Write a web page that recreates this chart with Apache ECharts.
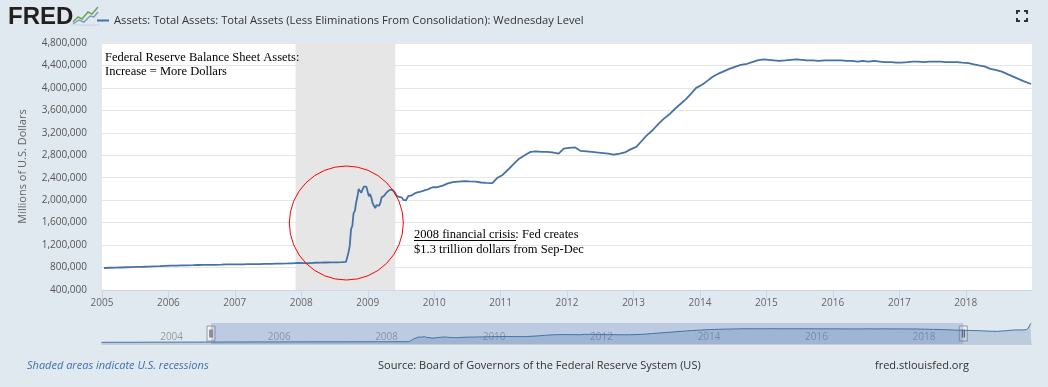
<!DOCTYPE html>
<html>
<head>
<meta charset="utf-8">
<script src="https://cdn.jsdelivr.net/npm/echarts@6/dist/echarts.min.js"></script>
<style>
html,body{margin:0;padding:0;background:#e1e9f0;}
#c{width:1048px;height:387px;}
</style>
</head>
<body>
<div id="c"></div>
<script>
// ---- data (millions of U.S. dollars) ----
const seriesName = 'Assets: Total Assets: Total Assets (Less Eliminations From Consolidation): Wednesday Level';
const mainDates = [
 '2005-01-12','2005-02-16','2005-03-16','2005-04-13','2005-05-18','2005-06-15','2005-07-13','2005-08-17','2005-09-14','2005-10-12','2005-11-16','2005-12-14',
 '2006-01-11','2006-02-15','2006-03-15','2006-04-12','2006-05-17','2006-06-14','2006-07-12','2006-08-16','2006-09-13','2006-10-18','2006-11-15','2006-12-13',
 '2007-01-17','2007-02-14','2007-03-14','2007-04-18','2007-05-16','2007-06-13','2007-07-18','2007-08-15','2007-09-12','2007-10-17','2007-11-14','2007-12-12',
 '2008-01-16','2008-02-13','2008-03-12','2008-04-16','2008-05-14','2008-06-11','2008-07-16','2008-08-13',
 '2008-09-03','2008-09-10','2008-09-17','2008-09-24','2008-10-01','2008-10-08','2008-10-15','2008-10-22','2008-10-29',
 '2008-11-05','2008-11-12','2008-11-19','2008-11-26','2008-12-03','2008-12-10','2008-12-17','2008-12-24','2008-12-31',
 '2009-01-07','2009-01-14','2009-01-21','2009-01-28','2009-02-04','2009-02-11','2009-02-18','2009-02-25',
 '2009-03-04','2009-03-11','2009-03-18','2009-03-25','2009-04-01','2009-04-08','2009-04-15','2009-04-22','2009-04-29',
 '2009-05-06','2009-05-13','2009-05-20','2009-05-27','2009-06-03','2009-06-10','2009-06-17','2009-06-24',
 '2009-07-01','2009-07-08','2009-07-15','2009-07-22','2009-07-29','2009-08-05','2009-08-12','2009-08-19','2009-08-26',
 '2009-09-02','2009-09-16','2009-09-30','2009-10-14','2009-10-28','2009-11-11','2009-11-25','2009-12-09','2009-12-23',
 '2010-01-13','2010-02-17','2010-03-17','2010-04-14','2010-05-12','2010-06-16','2010-07-14','2010-08-18','2010-09-15','2010-10-13','2010-11-17','2010-12-15',
 '2011-01-12','2011-02-16','2011-03-16','2011-04-13','2011-05-18','2011-06-15','2011-07-13','2011-08-17','2011-09-14','2011-10-12','2011-11-16','2011-12-14',
 '2012-01-11','2012-02-15','2012-03-14','2012-04-18','2012-05-16','2012-06-13','2012-07-18','2012-08-15','2012-09-12','2012-10-17','2012-11-14','2012-12-12',
 '2013-01-16','2013-02-13','2013-03-13','2013-04-17','2013-05-15','2013-06-12','2013-07-17','2013-08-14','2013-09-11','2013-10-16','2013-11-13','2013-12-11',
 '2014-01-15','2014-02-12','2014-03-12','2014-04-16','2014-05-14','2014-06-11','2014-07-16','2014-08-13','2014-09-17','2014-10-15','2014-11-12','2014-12-17',
 '2015-01-14','2015-02-11','2015-03-11','2015-04-15','2015-05-13','2015-06-17','2015-07-15','2015-08-12','2015-09-16','2015-10-14','2015-11-18','2015-12-16',
 '2016-01-13','2016-02-17','2016-03-16','2016-04-13','2016-05-18','2016-06-15','2016-07-13','2016-08-17','2016-09-14','2016-10-12','2016-11-16','2016-12-14',
 '2017-01-11','2017-02-15','2017-03-15','2017-04-12','2017-05-17','2017-06-14','2017-07-12','2017-08-16','2017-09-13','2017-10-18','2017-11-15','2017-12-13',
 '2018-01-17','2018-02-14','2018-03-14','2018-04-18','2018-05-16','2018-06-13','2018-07-18','2018-08-15','2018-09-12','2018-10-17','2018-11-14','2018-12-26'
];
const mainValues = [
 792000,796000,798000,801000,805000,807000,811000,814000,818000,822000,826000,831000,
 835000,834000,837000,840000,842000,845000,847000,846000,849000,852000,855000,858000,
 856000,858000,860000,862000,861000,864000,866000,869000,871000,873000,875000,885000,
 877000,880000,885000,888000,890000,891000,893000,895000,
 900000,925000,1070000,1190000,1490000,1540000,1770000,1810000,1960000,
 2060000,2200000,2180000,2130000,2190000,2240000,2270000,2240000,2230000,
 2070000,2110000,2040000,1940000,1910000,1860000,1910000,1900000,
 1900000,1950000,2050000,2080000,2080000,2100000,2140000,2170000,2180000,
 2160000,2190000,2170000,2150000,2130000,2070000,2090000,2060000,
 2040000,2045000,2005000,2020000,1995000,2035000,2075000,2060000,2080000,
 2100000,2120000,2140000,2150000,2160000,2180000,2190000,2210000,2230000,
 2230000,2260000,2300000,2320000,2330000,2340000,2335000,2330000,2315000,2310000,2305000,2400000,
 2450000,2560000,2650000,2740000,2810000,2860000,2870000,2860000,2860000,2850000,2830000,2920000,
 2930000,2940000,2880000,2870000,2860000,2850000,2840000,2830000,2810000,2830000,2850000,2900000,
 2950000,3050000,3150000,3250000,3350000,3440000,3530000,3620000,3700000,3800000,3900000,4000000,
 4060000,4130000,4200000,4260000,4300000,4340000,4380000,4410000,4430000,4460000,4490000,4510000,
 4500000,4490000,4480000,4490000,4500000,4510000,4500000,4490000,4490000,4480000,4490000,4490000,
 4490000,4490000,4480000,4480000,4470000,4480000,4470000,4480000,4470000,4460000,4460000,4450000,
 4450000,4460000,4470000,4470000,4460000,4470000,4470000,4470000,4460000,4460000,4460000,4450000,
 4440000,4420000,4400000,4380000,4340000,4320000,4290000,4250000,4210000,4160000,4120000,4070000
];
// navigator-only history before and after the visible window
const preDates = ['2002-12-18','2003-03-12','2003-06-11','2003-09-10','2003-12-10','2004-03-10','2004-06-16','2004-09-15','2004-12-15'];
const preValues = [720000,730000,735000,745000,755000,760000,770000,780000,790000];
const postDates = ['2019-01-16','2019-02-13','2019-03-13','2019-04-17','2019-05-15','2019-06-12','2019-07-17','2019-08-14','2019-09-18','2019-10-16','2019-11-13','2019-12-18',
 '2020-01-15','2020-02-12','2020-03-04','2020-03-11','2020-03-18','2020-03-25','2020-04-01','2020-04-08'];
const postValues = [4050000,4020000,3990000,3950000,3900000,3850000,3800000,3770000,3850000,3940000,4050000,4170000,
 4170000,4160000,4240000,4360000,4670000,5250000,5810000,6080000];
const recession = ['2007-12-01','2009-06-01'];
const viewRange = ['2005-01-01','2018-12-31'];
const navRange = ['2002-12-22','2020-04-12'];
const navLabelYears = ['2004','2006','2008','2010','2012','2014','2016','2018'];
const yTicks = {min: 400000, max: 4800000, step: 400000};
const circleAt = ['2008-09-05', 1593000];

const mainData = mainDates.map((d,i)=>[d, mainValues[i]]);
const navData = preDates.map((d,i)=>[d,preValues[i]])
  .concat(mainData)
  .concat(postDates.map((d,i)=>[d,postValues[i]]));

const YEAR = 365*24*3600*1000;
const axisFont = "'Open Sans', sans-serif";
const serif = "'Liberation Serif','DejaVu Serif',serif";

const chart = echarts.init(document.getElementById('c'), null, {renderer:'canvas'});
const option = {
  animation: false,
  backgroundColor: '#e1e9f0',
  legend: {
    data: [seriesName],
    left: 92, top: 10,
    icon: 'rect', itemWidth: 12, itemHeight: 2, itemGap: 5,
    textStyle: {fontFamily: axisFont, fontSize: 11.2, color: '#333'},
    selectedMode: false
  },
  grid: [
    {left: 102, right: 16, top: 43, bottom: 97, show: true, backgroundColor: '#ffffff', borderWidth: 0},
    {left: 102, right: 16, top: 323, height: 21, show: true, backgroundColor: 'rgba(0,0,0,0)', borderWidth: 0}
  ],
  xAxis: [
    {type: 'time', gridIndex: 0, min: viewRange[0], max: viewRange[1],
     minInterval: YEAR, maxInterval: YEAR + 2*24*3600*1000,
     axisLine: {show: true, lineStyle: {color: '#ccd6eb'}},
     axisTick: {show: true, length: 9, lineStyle: {color: '#ccd6eb'}},
     axisLabel: {formatter: '{yyyy}', color: '#666', fontSize: 10, fontFamily: axisFont, margin: 8, hideOverlap: false},
     splitLine: {show: false}},
    {type: 'time', gridIndex: 1, min: navRange[0], max: navRange[1],
     minInterval: 2*YEAR, maxInterval: 2*YEAR + 3*24*3600*1000,
     axisLine: {show: true, lineStyle: {color: '#cccccc'}},
     axisTick: {show: false},
     axisLabel: {inside: true, color: '#999', fontSize: 10, fontFamily: axisFont, margin: 2, align: 'left', padding: [0,0,0,3],
       formatter: v => { const y = String(new Date(v).getFullYear()); return navLabelYears.indexOf(y) >= 0 ? y : ''; }},
     splitLine: {show: false}}
  ],
  yAxis: [
    {type: 'value', gridIndex: 0, min: yTicks.min, max: yTicks.max, interval: yTicks.step,
     name: 'Millions of U.S. Dollars', nameLocation: 'middle', nameGap: 74,
     nameTextStyle: {fontFamily: axisFont, fontSize: 11, color: '#666'},
     axisLine: {show: false}, axisTick: {show: false},
     axisLabel: {color: '#555', fontSize: 10, fontFamily: axisFont, margin: 15,
       formatter: v => v.toLocaleString('en-US')},
     splitLine: {show: true, lineStyle: {color: '#e6e6e6', width: 1}}},
    {type: 'value', gridIndex: 1, min: 250000, max: 6100000, show: false, splitLine: {show: false}}
  ],
  series: [
    {name: seriesName, type: 'line', xAxisIndex: 0, yAxisIndex: 0, data: mainData,
     showSymbol: false, symbol: 'none', lineStyle: {color: '#4572a7', width: 1.8}, itemStyle: {color: '#4572a7'},
     markArea: {silent: true, itemStyle: {color: '#e6e6e6'}, data: [[{xAxis: recession[0]}, {xAxis: recession[1]}]]},
     markPoint: {silent: true, data: [{coord: circleAt, symbol: 'circle', symbolSize: 114,
       itemStyle: {color: 'rgba(0,0,0,0)', borderColor: '#ff0000', borderWidth: 1}, label: {show: false}}]},
     z: 3},
    {name: 'nav', type: 'line', xAxisIndex: 1, yAxisIndex: 1, data: navData,
     showSymbol: false, symbol: 'none', lineStyle: {color: '#4572a7', width: 1},
     areaStyle: {color: 'rgba(69,114,167,0.35)'},
     markArea: {silent: true, itemStyle: {color: 'rgba(102,133,194,0.3)'}, data: [[{xAxis: viewRange[0]}, {xAxis: '2019-01-01'}]]}}
  ]
};
chart.setOption(option);

// handles and decorations
const hL = chart.convertToPixel({xAxisIndex: 1}, viewRange[0]);
const hR = chart.convertToPixel({xAxisIndex: 1}, '2019-01-01');
const navMid = 333.5;
function handle(x){
  return {type: 'group', children: [
    {type: 'rect', shape: {x: x-4, y: navMid-7.5, width: 8, height: 15}, style: {fill: '#f2f2f2', stroke: '#999', lineWidth: 1}},
    {type: 'line', shape: {x1: x-1, y1: navMid-4, x2: x-1, y2: navMid+4}, style: {stroke: '#333', lineWidth: 1}},
    {type: 'line', shape: {x1: x+1, y1: navMid-4, x2: x+1, y2: navMid+4}, style: {stroke: '#333', lineWidth: 1}}
  ]};
}
const g = [
  {type: 'text', left: 8, top: 5, style: {text: 'FRED', fontFamily: "'Liberation Sans','DejaVu Sans',sans-serif", fontWeight: 900, fontSize: 24, fill: '#231f20'}},
  {type: 'polyline', shape: {points: [[73,22],[78,17],[82,19],[88,12],[92,14],[98,7]]}, style: {stroke: '#6aa84f', lineWidth: 1.5, fill: null}},
  {type: 'polyline', shape: {points: [[73,24],[79,20],[84,22],[90,16],[94,17],[98,12]]}, style: {stroke: '#7a9cc6', lineWidth: 1.5, fill: null}},
  {type: 'line', shape: {x1: 71, y1: 25, x2: 100, y2: 25}, style: {stroke: '#c8d3de', lineWidth: 1}},
  // fullscreen icon
  {type: 'polyline', shape: {points: [[1017,14],[1017,11],[1020,11]]}, style: {stroke: '#333', lineWidth: 2, fill: null}},
  {type: 'polyline', shape: {points: [[1024,11],[1027,11],[1027,14]]}, style: {stroke: '#333', lineWidth: 2, fill: null}},
  {type: 'polyline', shape: {points: [[1017,18],[1017,21],[1020,21]]}, style: {stroke: '#333', lineWidth: 2, fill: null}},
  {type: 'polyline', shape: {points: [[1024,21],[1027,21],[1027,18]]}, style: {stroke: '#333', lineWidth: 2, fill: null}},
  // annotations
  {type: 'text', left: 105, top: 51, z: 10, style: {text: 'Federal Reserve Balance Sheet Assets:', fontFamily: serif, fontSize: 12.5, fill: '#000'}},
  {type: 'text', left: 105, top: 65, z: 10, style: {text: 'Increase = More Dollars', fontFamily: serif, fontSize: 12.5, fill: '#000'}},
  {type: 'text', left: 414, top: 228, z: 10, style: {text: '2008 financial crisis: Fed creates', fontFamily: serif, fontSize: 12.5, fill: '#000'}},
  {type: 'line', z: 10, shape: {x1: 414, y1: 240.5, x2: 516, y2: 240.5}, style: {stroke: '#000', lineWidth: 1}},
  {type: 'text', left: 414, top: 243, z: 10, style: {text: '$1.3 trillion dollars from Sep-Dec', fontFamily: serif, fontSize: 12.5, fill: '#000'}},
  // footer
  {type: 'text', left: 27, top: 360, style: {text: 'Shaded areas indicate U.S. recessions', fontFamily: axisFont, fontStyle: 'italic', fontSize: 11, fill: '#3f6fb0'}},
  {type: 'text', left: 378, top: 360, style: {text: 'Source: Board of Governors of the Federal Reserve System (US)', fontFamily: axisFont, fontSize: 11, fill: '#333'}},
  {type: 'text', left: 875, top: 360, style: {text: 'fred.stlouisfed.org', fontFamily: axisFont, fontSize: 11, fill: '#333'}},
  handle(hL), handle(hR)
];
chart.setOption({graphic: g});
</script>
</body>
</html>
